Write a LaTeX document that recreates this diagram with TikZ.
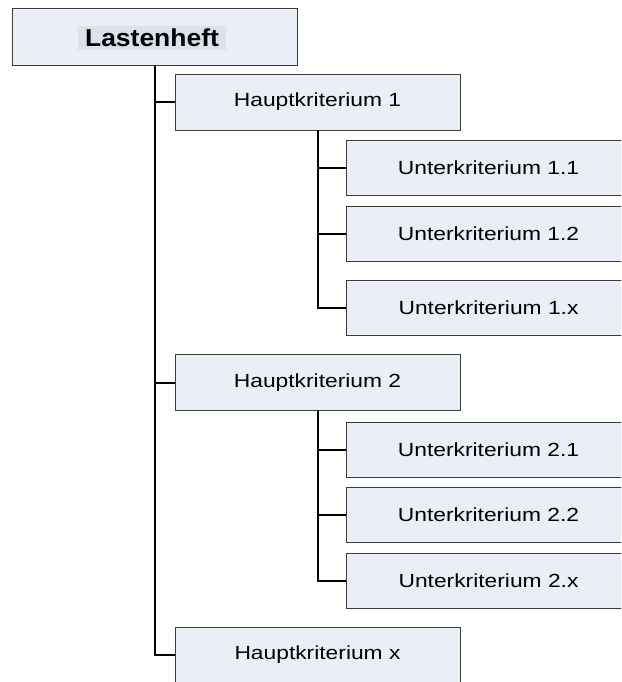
\documentclass[tikz,border=0pt]{standalone}
\usepackage{fontspec}
\newfontfamily\hfont{Liberation Sans}[FakeStretch=1.2]
\newfontfamily\lfont{Liberation Sans}[FakeStretch=1.08]
\definecolor{boxfill}{RGB}{233,238,247}
\definecolor{hlfill}{RGB}{219,226,238}
\definecolor{boxline}{RGB}{60,60,60}
\tikzset{
  crit/.style={draw=boxline, line width=0.9pt, fill=boxfill, rectangle, inner sep=0pt,
    minimum width=285pt, minimum height=56pt, font=\hfont\fontsize{19}{21}\selectfont},
  conn/.style={draw=black, line width=2pt}
}
\begin{document}
\begin{tikzpicture}[x=1pt,y=-1pt]
\useasboundingbox (0,0) rectangle (621,682);
\fill[white] (0,0) rectangle (621,682);
\clip (0,0) rectangle (621,682);
% top box
\node[crit, minimum height=57pt] (L) at (154.5,36.5) {};
\node[fill=hlfill, inner sep=0pt, minimum width=148pt, minimum height=24pt,
  font=\lfont\bfseries\fontsize{24.5}{26}\selectfont] (Lt) at (152,38) {Lastenheft};
% main criteria
\node[crit] (H1) at (317.5,102) {Hauptkriterium 1};
\node[crit] (H2) at (317.5,382.5) {Hauptkriterium 2};
\node[crit] (Hx) at (317.5,655) {Hauptkriterium x};
% sub criteria
\node[crit, minimum height=55pt] (U11) at (488.5,167.5) {Unterkriterium 1.1};
\node[crit, minimum height=55pt] (U12) at (488.5,233.5) {Unterkriterium 1.2};
\node[crit, minimum height=55pt] (U1x) at (488.5,308) {Unterkriterium 1.x};
\node[crit, minimum height=55pt] (U21) at (488.5,449.5) {Unterkriterium 2.1};
\node[crit, minimum height=55pt] (U22) at (488.5,514.5) {Unterkriterium 2.2};
\node[crit, minimum height=55pt] (U2x) at (488.5,580.5) {Unterkriterium 2.x};
% connectors
\draw[conn] (L.south) |- (H1.west);
\draw[conn] (L.south) |- (H2.west);
\draw[conn] (L.south) |- (Hx.west);
\draw[conn] (H1.south) |- (U11.west);
\draw[conn] (H1.south) |- (U12.west);
\draw[conn] (H1.south) |- (U1x.west);
\draw[conn] (H2.south) |- (U21.west);
\draw[conn] (H2.south) |- (U22.west);
\draw[conn] (H2.south) |- (U2x.west);
\end{tikzpicture}
\end{document}
